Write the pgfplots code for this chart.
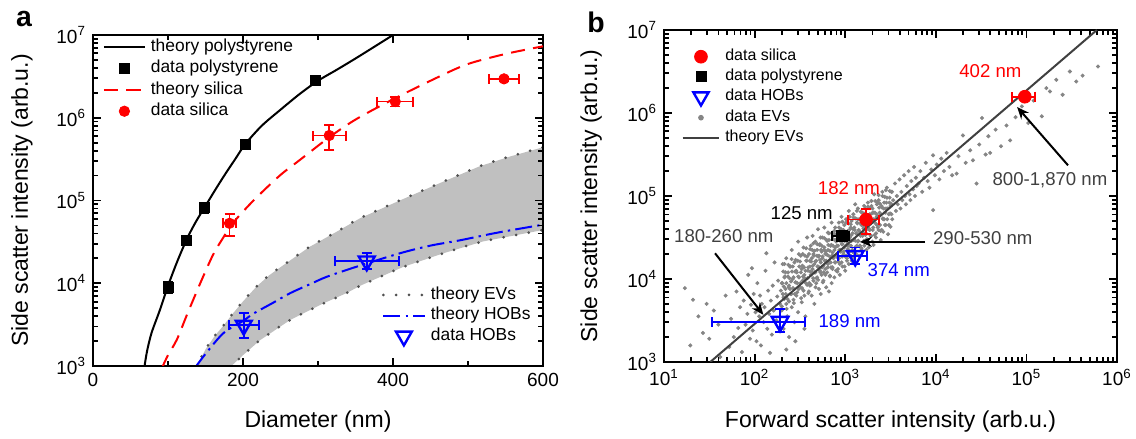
\documentclass[border=0pt]{standalone}
\usepackage{fontspec}
\setmainfont{Liberation Sans}
\usepackage{pgfplots}
\pgfplotsset{compat=1.18}
\usepgfplotslibrary{fillbetween}
\usetikzlibrary{arrows.meta}

\definecolor{Band}{HTML}{C0C0C0}
\definecolor{EVdot}{HTML}{505050}
\definecolor{Cloud}{HTML}{858585}
\definecolor{Note}{HTML}{404040}
\definecolor{Theo}{HTML}{404040}

\newcommand{\tickfont}{\fontsize{9.5}{11}\selectfont}
\newcommand{\labfont}{\fontsize{11.5}{13}\selectfont}
\newcommand{\notefont}{\fontsize{9.3}{11}\selectfont}

\pgfplotsset{
  panel/.style={
    scale only axis,
    axis line style={line width=1.1pt},
    tick style={black, line width=0.9pt},
    major tick length=4pt, minor tick length=2.4pt,
    tick align=inside,
    tick label style={font=\tickfont},
    label style={font=\labfont},
    /pgf/number format/assume math mode=true,
    legend cell align=left,
  },
  legA/.style={legend image code/.code={\draw[mark repeat=2,mark phase=2,##1] plot coordinates {(0pt,0pt) (10.25pt,0pt) (20.5pt,0pt)};}},
  legB/.style={legend image code/.code={\draw[mark repeat=2,mark phase=2,##1] plot coordinates {(0pt,0pt) (9.15pt,0pt) (18.3pt,0pt)};}},
  errs/.style={error bars/.cd, x dir=both, x explicit, y dir=both, y explicit,
    error bar style={line width=0.9pt, solid},
    error mark options={rotate=90, mark size=2.5pt, line width=0.9pt, solid},
    /pgfplots/.cd},
  thpoly/.style={black, line width=1pt, smooth, no marks},
  thsil/.style={red, line width=1pt, dash pattern=on 7pt off 4.2pt, smooth, no marks},
  thev/.style={EVdot, line width=1.5pt, line cap=round, dash pattern=on 0pt off 6.4pt, no marks, smooth},
  thhob/.style={blue, line width=1pt, dash pattern=on 8.5pt off 2.6pt on 1.2pt off 2.6pt, smooth, no marks},
}

\begin{document}
\begin{tikzpicture}

% ---------- panel a: EV band and HOBs (drawn first, axis hidden)
\begin{axis}[panel, legA, hide axis,
  at={(46.5pt,36.5pt)}, anchor=south west, width=225pt, height=165.5pt,
  xmin=0, xmax=600, ymode=log, ymin=1e3, ymax=1e7,
  legend style={at={(axis description cs:0.642,0.240)}, anchor=north west,
    draw=none, fill=none, inner sep=0pt, outer sep=0pt, row sep=1.9pt, column sep=2.5pt,
    font=\fontsize{8.7}{10}\selectfont, nodes={inner sep=0pt, text height=6.4pt, text depth=2pt}}]
\addplot[name path=evup, draw=none, forget plot] coordinates {
 (137,950) (150,1585) (162,2290) (175,3160) (187,4365) (200,6030) (218,9120) (235,12500)
 (254,16600) (289,27600) (325,42000) (356,61000) (409,100000) (463,163000) (516,260000)
 (556,340000) (600,440000)};
\addplot[name path=evlo, draw=none, forget plot] coordinates {
 (182,950) (187,1050) (200,1350) (223,2060) (263,3600) (307,5700) (338,7600) (356,9300)
 (369,10500) (414,15800) (467,23000) (520,32000) (600,44000)};
\addplot[Band, forget plot] fill between[of=evup and evlo];
\addplot[thev] coordinates {
 (137,950) (150,1585) (162,2290) (175,3160) (187,4365) (200,6030) (218,9120) (235,12500)
 (254,16600) (289,27600) (325,42000) (356,61000) (409,100000) (463,163000) (516,260000)
 (556,340000) (600,440000)};
\addlegendentry{theory EVs}
\addplot[thev, forget plot] coordinates {
 (182,950) (187,1050) (200,1350) (223,2060) (263,3600) (307,5700) (338,7600) (356,9300)
 (369,10500) (414,15800) (467,23000) (520,32000) (600,44000)};
\addplot[thhob] coordinates {
 (136,950) (150,1400) (174,2500) (200,3500) (214,4300) (240,5800) (263,7600) (290,9800)
 (312,12000) (351,15800) (409,23000) (450,28500) (489,33000) (540,41000) (600,51000)};
\addlegendentry{theory HOBs}
\addplot[blue, only marks, mark=triangle,
  mark options={rotate=180, solid, fill=white, line width=1.2pt, mark size=4.6pt}, errs]
  coordinates {(201,3100) += (20,1300) -= (20,900) (365,18500) += (43,4500) -= (42,3500)};
\addlegendentry{data HOBs}
\end{axis}

% ---------- panel a: main axis
\begin{axis}[panel, legA,
  at={(46.5pt,36.5pt)}, anchor=south west, width=225pt, height=165.5pt,
  xmin=0, xmax=600, xtick={0,200,400,600}, minor xtick={100,300,500},
  ymode=log, ymin=1e3, ymax=1e7,
  ytick={1e3,1e4,1e5,1e6,1e7},
  yticklabels={10\textsuperscript{3},10\textsuperscript{4},10\textsuperscript{5},10\textsuperscript{6},10\textsuperscript{7}},
  minor ytick={2e3,3e3,4e3,5e3,6e3,7e3,8e3,9e3,2e4,3e4,4e4,5e4,6e4,7e4,8e4,9e4,
    2e5,3e5,4e5,5e5,6e5,7e5,8e5,9e5,2e6,3e6,4e6,5e6,6e6,7e6,8e6,9e6},
  xlabel={Diameter (nm)}, ylabel={Side scatter intensity (arb.u.)},
  xlabel style={at={(axis description cs:0.5,-0.168)}, anchor=center},
  ylabel style={at={(axis description cs:-0.158,0.5)}, anchor=center},
  legend style={at={(axis description cs:0.022,0.989)}, anchor=north west,
    draw=none, fill=none, inner sep=0pt, outer sep=0pt, row sep=2.3pt, column sep=2.5pt,
    font=\fontsize{8.7}{10}\selectfont, nodes={inner sep=0pt, text height=6.4pt, text depth=2pt}}]
\addplot[thpoly] coordinates {
 (68,900) (72,1500) (78,2500) (89,4700) (100,9300) (112,18000) (125,34000) (137,55000)
 (150,86000) (162,130000) (175,200000) (190,320000) (203,480000) (225,800000)
 (250,1250000) (276,1950000) (300,2800000) (325,3800000) (350,5200000) (375,7200000)
 (400,10000000) (410,11500000)};
\addlegendentry{theory polystyrene}
\addplot[black, only marks, mark=square*, mark options={mark size=2.5pt}, errs] coordinates {
 (100,9000) +- (3,1500) (125,33000) +- (3,4000) (148,82000) +- (3,12000)
 (203,480000) +- (3,50000) (297,2800000) +- (3,250000)};
\addlegendentry{data polystyrene}
\addplot[thsil] coordinates {
 (92,950) (100,1350) (112,2100) (125,4100) (143,10000) (160,22000) (174,36000) (187,54000)
 (214,100000) (249,200000) (276,310000) (316,590000) (350,950000) (396,1600000)
 (450,2800000) (498,4400000) (550,5900000) (600,7300000)};
\addlegendentry{theory silica}
\addplot[red, only marks, mark=*, mark options={mark size=2.6pt}, errs] coordinates {
 (182,53000) +- (9,16000) (315,610000) +- (22,200000)
 (403,1570000) +- (24,200000) (548,2950000) +- (20,150000)};
\addlegendentry{data silica}
\end{axis}

% ---------- panel b: EV cloud (log10 units, axis hidden)
\begin{axis}[scale only axis, hide axis,
  at={(332pt,38.5pt)}, anchor=south west, width=226.5pt, height=166pt,
  xmin=1, xmax=6, ymin=3, ymax=7]
\addplot[only marks, mark=*, mark size=0.8pt, Cloud] coordinates {
 (1.23,3.89) (1.32,3.75) (1.29,3.20) (1.43,3.35) (1.62,3.06) (1.38,3.55) (1.55,3.62) (1.50,3.28)
 (1.68,3.80) (1.60,3.45) (1.72,3.18) (1.47,3.70)
 (1.74,3.52) (1.77,3.30) (1.80,3.85) (1.82,3.41) (1.84,3.66) (1.86,3.12) (1.88,3.74) (1.90,3.45)
 (1.92,3.58) (1.93,4.05) (1.95,3.28) (1.96,3.69) (1.97,4.13) (1.98,3.38) (1.99,3.82)
 (2.01,3.60) (2.02,3.25) (2.03,3.95) (2.05,3.55) (2.06,3.80) (2.07,3.20) (2.08,3.70) (2.10,3.48)
 (2.11,3.66) (2.12,4.10) (2.13,4.31) (2.14,3.40) (2.15,3.86) (2.16,3.58) (2.18,3.74) (2.19,3.33)
 (2.20,3.92) (2.21,3.62) (2.22,4.20) (2.24,3.50) (2.25,3.79) (2.26,3.98) (2.27,3.41) (2.28,3.70)
 (2.29,3.86) (2.17,3.11)
 (2.30,3.95) (2.30,3.62) (2.31,4.18) (2.32,3.78) (2.32,3.40) (2.33,4.02) (2.34,3.88) (2.35,4.25)
 (2.35,3.70) (2.36,3.55) (2.37,4.08) (2.38,3.92) (2.38,3.30) (2.39,4.15) (2.40,3.82) (2.41,4.35)
 (2.41,3.66) (2.42,4.00) (2.43,3.75) (2.44,4.20) (2.44,3.48) (2.45,3.96) (2.46,4.10) (2.47,3.84)
 (2.48,4.45) (2.48,3.60) (2.49,4.02) (2.50,3.90) (2.51,4.28) (2.52,3.72) (2.52,4.12) (2.53,3.98)
 (2.54,4.38) (2.55,3.80) (2.55,4.05) (2.56,3.55) (2.57,4.22) (2.58,3.93) (2.58,4.50) (2.59,4.10)
 (2.60,3.85) (2.60,4.30) (2.45,3.25) (2.35,3.15) (2.55,3.40)
 (2.61,4.15) (2.61,3.92) (2.62,4.40) (2.62,4.05) (2.63,3.80) (2.63,4.25) (2.64,4.12) (2.64,4.52)
 (2.65,3.98) (2.65,4.30) (2.66,4.18) (2.66,3.70) (2.67,4.08) (2.67,4.45) (2.68,4.22) (2.68,3.95)
 (2.69,4.35) (2.69,4.02) (2.70,4.60) (2.70,4.15) (2.71,3.88) (2.71,4.28) (2.72,4.10) (2.72,4.42)
 (2.73,4.20) (2.73,3.82) (2.74,4.33) (2.74,4.05) (2.75,4.50) (2.75,4.25) (2.76,3.98) (2.76,4.16)
 (2.77,4.38) (2.77,4.62) (2.78,4.12) (2.78,4.30) (2.79,3.90) (2.79,4.22) (2.80,4.46) (2.80,4.08)
 (2.81,4.35) (2.81,4.18) (2.82,3.85) (2.82,4.55) (2.83,4.27) (2.83,4.04) (2.84,4.40) (2.84,4.20)
 (2.85,4.68) (2.85,3.95) (2.86,4.32) (2.86,4.14) (2.87,4.48) (2.87,4.25) (2.88,4.02) (2.88,4.58)
 (2.89,4.38) (2.89,4.20) (2.90,4.10) (2.90,4.45)
 (2.91,4.30) (2.91,4.55) (2.92,4.12) (2.92,4.40) (2.93,4.68) (2.93,4.25) (2.94,4.05) (2.94,4.48)
 (2.95,4.35) (2.95,4.60) (2.96,4.20) (2.96,4.75) (2.97,4.42) (2.97,4.15) (2.98,4.52) (2.98,4.30)
 (2.99,4.65) (2.99,4.38) (3.00,4.10) (3.00,4.50) (3.01,4.28) (3.01,4.72) (3.02,4.45) (3.02,4.22)
 (3.03,4.58) (3.03,4.36) (3.04,4.82) (3.04,4.18) (3.05,4.50) (3.05,4.40) (3.06,4.62) (3.06,4.28)
 (3.07,4.70) (3.07,4.46) (3.08,4.35) (3.08,4.55) (3.09,4.25) (3.09,4.78) (3.10,4.48) (3.10,4.62)
 (3.11,4.38) (3.11,4.90) (3.12,4.55) (3.12,4.30) (3.13,4.68) (3.14,4.45) (3.14,4.85) (3.15,4.58)
 (3.16,4.40) (3.16,4.72) (3.17,4.52) (3.18,4.65) (3.18,4.35) (3.19,4.80) (3.20,4.56)
 (3.21,4.62) (3.21,4.40) (3.22,4.85) (3.23,4.55) (3.23,4.70) (3.24,4.48) (3.25,4.92) (3.25,4.65)
 (3.26,4.38) (3.27,4.78) (3.27,4.60) (3.28,4.52) (3.29,4.88) (3.29,4.70) (3.30,4.45) (3.31,4.80)
 (3.31,4.62) (3.32,5.02) (3.33,4.72) (3.34,4.55) (3.35,4.90) (3.35,4.75) (3.36,4.62) (3.37,4.95)
 (3.38,4.80) (3.39,4.58) (3.40,4.88) (3.41,5.05) (3.42,4.72) (3.43,4.92) (3.44,4.65) (3.45,4.85)
 (3.46,5.10) (3.48,4.78) (3.49,4.98)
 (3.50,4.88) (3.51,5.05) (3.52,4.72) (3.53,4.95) (3.55,5.15) (3.56,4.82) (3.57,5.00) (3.58,4.90)
 (3.60,5.20) (3.61,4.85) (3.62,5.05) (3.63,4.95) (3.65,5.25) (3.66,5.00) (3.67,4.90) (3.68,5.12)
 (3.70,5.30) (3.71,5.02) (3.72,4.95) (3.73,5.18) (3.75,5.08) (3.76,5.35) (3.77,5.00) (3.78,5.22)
 (3.79,5.12)
 (3.81,5.15) (3.83,5.30) (3.85,5.05) (3.87,5.22) (3.89,5.40) (3.91,5.18) (3.93,5.10) (3.95,5.32)
 (3.97,5.49) (3.97,4.83) (3.99,5.25) (4.01,5.38) (4.04,5.20) (4.06,5.45) (4.09,5.30) (4.12,5.52)
 (4.15,5.35) (4.18,5.25)
 (4.23,5.27) (4.25,5.48) (4.30,5.73) (4.33,5.40) (4.38,5.55) (4.41,5.43) (4.45,5.15) (4.48,5.62)
 (4.51,5.94) (4.55,5.50) (4.58,5.72) (4.60,5.52) (4.66,5.80) (4.72,5.60) (4.78,5.85) (4.82,5.67)
 (4.88,5.95)
 (4.95,6.08) (5.02,5.88) (5.08,6.15) (5.17,5.96) (5.22,6.30) (5.26,6.26) (5.33,6.40) (5.40,6.22)
 (5.48,6.50) (5.55,6.38) (5.79,6.56) (5.62,6.45)};
\addplot[only marks, mark=*, mark size=0.8pt, Cloud] coordinates {
 (2.300,3.67) (2.311,3.82) (2.305,3.95) (2.316,4.09) (2.327,3.76) (2.322,3.91) (2.334,4.03) (2.329,4.18)
 (2.353,3.64) (2.344,3.82) (2.350,3.95) (2.341,4.08) (2.363,3.76) (2.375,3.90) (2.368,4.03) (2.372,4.17)
 (2.380,3.73) (2.391,3.88) (2.385,4.01) (2.396,4.15) (2.407,3.82) (2.402,3.97) (2.414,4.09) (2.409,4.24)
 (2.433,3.71) (2.424,3.89) (2.430,4.02) (2.421,4.15) (2.443,3.82) (2.455,3.96) (2.448,4.09) (2.452,4.23)
 (2.460,3.80) (2.471,3.95) (2.465,4.08) (2.476,4.22) (2.487,3.88) (2.482,4.03) (2.494,4.15) (2.489,4.30)
 (2.513,3.77) (2.504,3.95) (2.510,4.08) (2.501,4.21) (2.523,3.89) (2.535,4.03) (2.528,4.16) (2.532,4.30)
 (2.540,3.86) (2.551,4.01) (2.545,4.14) (2.556,4.28) (2.567,3.95) (2.562,4.10) (2.574,4.22) (2.569,4.37)
 (2.593,3.83) (2.584,4.01) (2.590,4.14) (2.581,4.27) (2.603,3.95) (2.615,4.09) (2.608,4.22) (2.612,4.36)
 (2.620,3.93) (2.631,4.08) (2.625,4.21) (2.636,4.35) (2.647,4.01) (2.642,4.16) (2.654,4.28) (2.649,4.43)
 (2.673,3.90) (2.664,4.08) (2.670,4.21) (2.661,4.34) (2.683,4.01) (2.695,4.15) (2.688,4.28) (2.692,4.42)
 (2.700,3.99) (2.711,4.14) (2.705,4.27) (2.716,4.41) (2.727,4.08) (2.722,4.23) (2.734,4.35) (2.729,4.50)
 (2.753,3.96) (2.744,4.14) (2.750,4.27) (2.741,4.40) (2.763,4.08) (2.775,4.22) (2.768,4.35) (2.772,4.49)
 (2.780,4.05) (2.791,4.20) (2.785,4.33) (2.796,4.47) (2.807,4.14) (2.802,4.29) (2.814,4.41) (2.809,4.56)
 (2.833,4.03) (2.824,4.21) (2.830,4.34) (2.821,4.47) (2.843,4.14) (2.855,4.28) (2.848,4.41) (2.852,4.55)
 (2.860,4.12) (2.871,4.27) (2.865,4.40) (2.876,4.54) (2.887,4.20) (2.882,4.35) (2.894,4.47) (2.889,4.62)
 (2.913,4.09) (2.904,4.27) (2.910,4.40) (2.901,4.53) (2.923,4.21) (2.935,4.35) (2.928,4.48) (2.932,4.62)
 (2.940,4.18) (2.951,4.33) (2.945,4.46) (2.956,4.60) (2.967,4.27) (2.962,4.42) (2.974,4.54) (2.969,4.69)
 (2.993,4.15) (2.984,4.33) (2.990,4.46) (2.981,4.59) (3.003,4.27) (3.015,4.41) (3.008,4.54) (3.012,4.68)
 (3.020,4.25) (3.031,4.40) (3.025,4.53) (3.036,4.67) (3.047,4.33) (3.042,4.48) (3.054,4.60) (3.049,4.75)
 (3.073,4.22) (3.064,4.40) (3.070,4.53) (3.061,4.66) (3.083,4.33) (3.095,4.47) (3.088,4.60) (3.092,4.74)
 (3.100,4.31) (3.111,4.46) (3.105,4.59) (3.116,4.73) (3.127,4.40) (3.122,4.55) (3.134,4.67) (3.129,4.82)
 (3.153,4.28) (3.144,4.46) (3.150,4.59) (3.141,4.72) (3.163,4.40) (3.175,4.54) (3.168,4.67) (3.172,4.81)
 (3.180,4.37) (3.191,4.52) (3.185,4.65) (3.196,4.79) (3.207,4.46) (3.202,4.61) (3.214,4.73) (3.209,4.88)
 (3.233,4.35) (3.224,4.53) (3.230,4.66) (3.221,4.79) (3.243,4.46) (3.255,4.60) (3.248,4.73) (3.252,4.87)
 (3.260,4.44) (3.271,4.59) (3.265,4.72) (3.276,4.86) (3.287,4.52) (3.282,4.67) (3.294,4.79) (3.289,4.94)
 (3.313,4.41) (3.304,4.59) (3.310,4.72) (3.301,4.85) (3.323,4.53) (3.335,4.67) (3.328,4.80) (3.332,4.94)
 (3.340,4.50) (3.351,4.65) (3.345,4.78) (3.356,4.92) (3.367,4.59) (3.362,4.74) (3.374,4.86) (3.369,5.01)
 (3.393,4.47) (3.384,4.65) (3.390,4.78) (3.381,4.91) (3.403,4.59) (3.415,4.73) (3.408,4.86) (3.412,5.00)
 (3.420,4.57) (3.431,4.72) (3.425,4.85) (3.436,4.99) (3.447,4.65) (3.442,4.80) (3.454,4.92) (3.449,5.07)
 (3.473,4.54) (3.464,4.72) (3.470,4.85) (3.461,4.98) (3.483,4.65) (3.495,4.79) (3.488,4.92) (3.492,5.06)
 (3.500,4.63) (3.511,4.78) (3.505,4.91) (3.516,5.05)};
\end{axis}

% ---------- panel b: main axis
\begin{axis}[panel, legB,
  at={(332pt,38.5pt)}, anchor=south west, width=226.5pt, height=166pt,
  xmode=log, ymode=log, xmin=10, xmax=1e6, ymin=1e3, ymax=1e7,
  xtick={1e1,1e2,1e3,1e4,1e5,1e6},
  xticklabels={10\textsuperscript{1},10\textsuperscript{2},10\textsuperscript{3},10\textsuperscript{4},10\textsuperscript{5},10\textsuperscript{6}},
  minor xtick={2e1,3e1,4e1,5e1,6e1,7e1,8e1,9e1,2e2,3e2,4e2,5e2,6e2,7e2,8e2,9e2,
    2e3,3e3,4e3,5e3,6e3,7e3,8e3,9e3,2e4,3e4,4e4,5e4,6e4,7e4,8e4,9e4,
    2e5,3e5,4e5,5e5,6e5,7e5,8e5,9e5},
  ytick={1e3,1e4,1e5,1e6,1e7},
  yticklabels={10\textsuperscript{3},10\textsuperscript{4},10\textsuperscript{5},10\textsuperscript{6},10\textsuperscript{7}},
  minor ytick={2e3,3e3,4e3,5e3,6e3,7e3,8e3,9e3,2e4,3e4,4e4,5e4,6e4,7e4,8e4,9e4,
    2e5,3e5,4e5,5e5,6e5,7e5,8e5,9e5,2e6,3e6,4e6,5e6,6e6,7e6,8e6,9e6},
  xlabel={Forward scatter intensity (arb.u.)}, ylabel={Side scatter intensity (arb.u.)},
  xlabel style={at={(axis description cs:0.5,-0.18)}, anchor=center},
  ylabel style={at={(axis description cs:-0.161,0.5)}, anchor=center},
  legend style={at={(axis description cs:0.039,0.943)}, anchor=north west,
    draw=none, fill=none, inner sep=0pt, outer sep=0pt, row sep=2.2pt, column sep=2.5pt,
    font=\fontsize{8}{9.5}\selectfont, nodes={inner sep=0pt, text height=6pt, text depth=1.8pt}}]
\addlegendimage{only marks, mark=*, red, mark size=3.2pt}
\addlegendentry{data silica}
\addlegendimage{only marks, mark=square*, black, mark size=2.5pt}
\addlegendentry{data polystyrene}
\addlegendimage{only marks, mark=triangle, blue, mark size=4.4pt, mark options={rotate=180, fill=white, line width=1.2pt}}
\addlegendentry{data HOBs}
\addlegendimage{only marks, mark=*, Cloud, mark size=1.2pt}
\addlegendentry{data EVs}
\addlegendimage{Theo, line width=1pt}
\addlegendentry{theory EVs}

\addplot[Theo, line width=1pt, forget plot] coordinates {(32.4,1000) (600000,10000000)};
\addplot[black, only marks, mark=square*, mark options={mark size=2.6pt}, forget plot, errs] coordinates {
 (920,33000) += (180,2500) -= (210,2500)};
\addplot[blue, only marks, mark=triangle,
  mark options={rotate=180, solid, fill=white, line width=1.2pt, mark size=4.8pt}, forget plot, errs] coordinates {
 (1290,19000) += (440,5000) -= (455,3800) (191,3060) += (169,1250) -= (157,760)};
\addplot[red, only marks, mark=*, mark options={mark size=3.2pt}, forget plot, errs] coordinates {
 (96000,1570000) += (29000,150000) -= (26000,150000) (1700,52000) += (650,17000) -= (630,17000)};

\node[font=\notefont, text=red] at (axis cs:4e4,3.24e6) {402 nm};
\node[font=\notefont, text=Note] at (axis cs:1.82e5,1.55e5) {800-1,870 nm};
\draw[-{Stealth[length=6pt,width=5pt]}, line width=1pt] (axis cs:2.88e5,2.34e5) -- (axis cs:7.9e4,1.18e6);
\node[font=\notefont, text=red] at (axis cs:1.1e3,1.26e5) {182 nm};
\node[font=\notefont, text=black] at (axis cs:331,6.3e4) {125 nm};
\node[font=\notefont, text=Note] at (axis cs:45.7,3.3e4) {180-260 nm};
\draw[-{Stealth[length=6pt,width=5pt]}, line width=1pt] (axis cs:36.6,2.04e4) -- (axis cs:125,3.7e3);
\node[font=\notefont, text=Note] at (axis cs:3.3e4,3.1e4) {290-530 nm};
\draw[-{Stealth[length=6pt,width=5pt]}, line width=1pt] (axis cs:7.6e3,2.8e4) -- (axis cs:1.45e3,2.8e4);
\node[font=\notefont, text=blue] at (axis cs:3.9e3,1.29e4) {374 nm};
\node[font=\notefont, text=blue] at (axis cs:1.12e3,3.1e3) {189 nm};
\end{axis}

\node[font=\fontsize{14.2}{16}\selectfont\bfseries, anchor=base] at (12pt,206.2pt) {a};
\node[font=\fontsize{14.2}{16}\selectfont\bfseries, anchor=base] at (298pt,203pt) {b};
\pgfresetboundingbox
\useasboundingbox (0,0) rectangle (568pt,219.5pt);
\end{tikzpicture}
\end{document}
